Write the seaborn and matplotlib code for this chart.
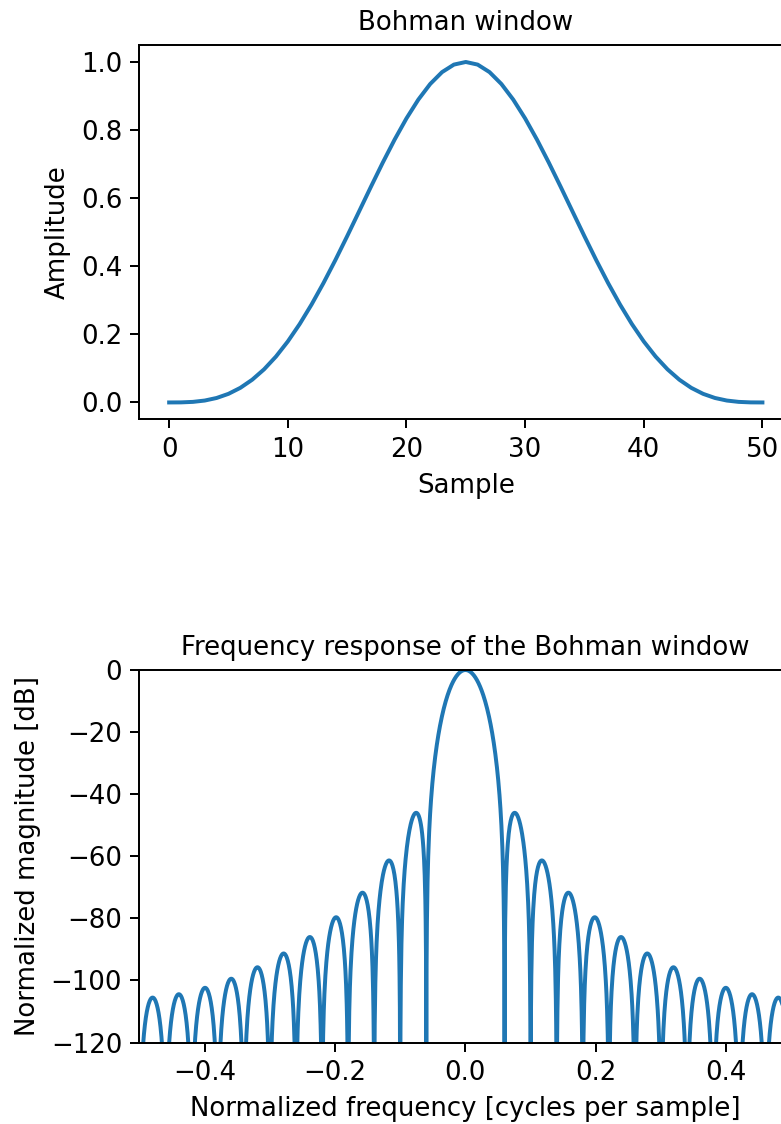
import numpy as np
import matplotlib
matplotlib.use("Agg")
import matplotlib.pyplot as plt
import seaborn as sns

# Bohman window, 51 samples: values for samples 0..25 (the rest mirrors them)
half_window = [0.0, 0.0002102193, 0.0016737968, 0.0056045062, 0.0131378884,
               0.0252944579, 0.0429456408, 0.0667832655, 0.0972933515,
               0.1347348511, 0.1791238937, 0.2302239646, 0.2875423250,
               0.3503328445, 0.4176052791, 0.4881408881, 0.5605141427,
               0.6331201465, 0.7042072552, 0.7719142682, 0.8343114523,
               0.8894445684, 0.9353809920, 0.9702569579, 0.9923249206,
               1.0]
window = np.array(half_window + half_window[-2::-1])
samples = np.arange(len(window))

# frequency response (2048-point FFT of the window above)
A = np.fft.fft(window, 2048) / (len(window) / 2.0)
freq = np.linspace(-0.5, 0.5, len(A))
response = 20 * np.log10(np.abs(np.fft.fftshift(A / np.abs(A).max())))

s = 1.78  # scale from points to this figure's pixels
fs = 18.7
plt.rcParams.update({
    "font.size": fs,
    "axes.titlesize": fs,
    "axes.labelsize": fs,
    "xtick.labelsize": fs,
    "ytick.labelsize": fs,
    "axes.linewidth": 0.8 * s,
    "xtick.major.width": 0.8 * s,
    "ytick.major.width": 0.8 * s,
    "xtick.major.size": 3.5 * s,
    "ytick.major.size": 3.5 * s,
    "xtick.major.pad": 3.5 * s,
    "ytick.major.pad": 3.5 * s,
    "axes.labelpad": 4 * s,
    "axes.titlepad": 6 * s,
})

fig = plt.figure(figsize=(7.81, 11.24), dpi=100)
blue = "#1f77b4"

# window
ax1 = fig.add_axes([0.1786, 0.6268, 0.8356, 0.3332])
sns.lineplot(x=samples, y=window, ax=ax1, color=blue, linewidth=1.6 * s, sort=False)
ax1.set_title("Bohman window")
ax1.set_ylabel("Amplitude")
ax1.set_xlabel("Sample")
ax1.set_xticks([0, 10, 20, 30, 40, 50])
ax1.set_yticks([0.0, 0.2, 0.4, 0.6, 0.8, 1.0])

# frequency response
ax2 = fig.add_axes([0.1786, 0.0725, 0.8343, 0.3314])
sns.lineplot(x=freq, y=response, ax=ax2, color=blue, linewidth=1.6 * s, sort=False)
ax2.axis([-0.5, 0.5, -120, 0])
ax2.set_title("Frequency response of the Bohman window")
ax2.set_ylabel("Normalized magnitude [dB]")
ax2.set_xlabel("Normalized frequency [cycles per sample]")
ax2.set_xticks([-0.4, -0.2, 0.0, 0.2, 0.4])
ax2.set_yticks([0, -20, -40, -60, -80, -100, -120])

fig.savefig("out.png", dpi=100)
